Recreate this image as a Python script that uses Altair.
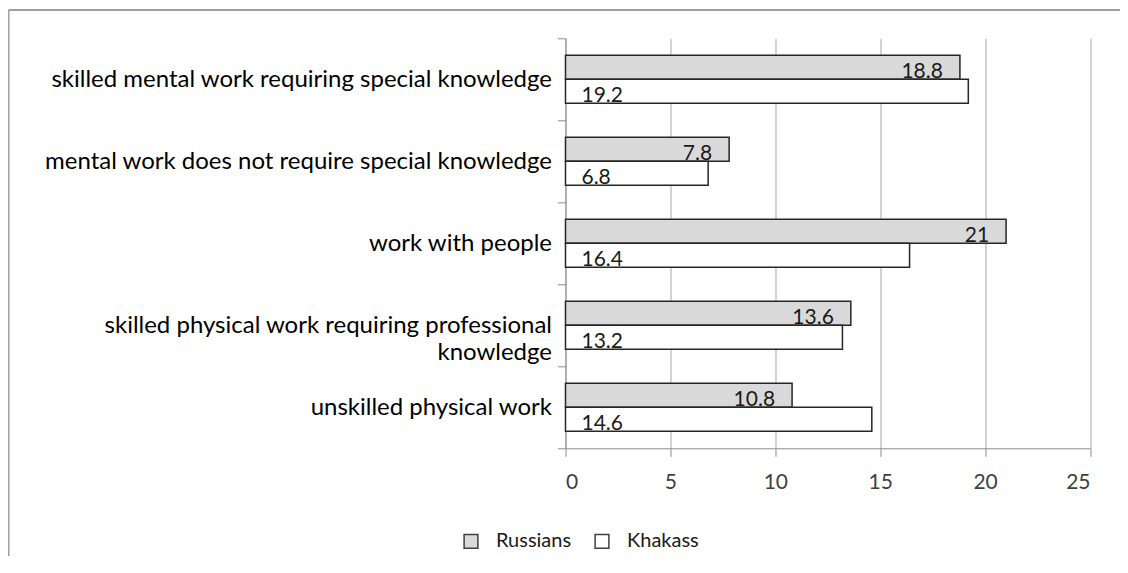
import altair as alt
import pandas as pd

categories = [
    "skilled mental work requiring special knowledge",
    "mental work does not require special knowledge",
    "work with people",
    "skilled physical work requiring professional knowledge",
    "unskilled physical work",
]
groups = ["Russians", "Khakass"]
russians = [18.8, 7.8, 21, 13.6, 10.8]
khakass = [19.2, 6.8, 16.4, 13.2, 14.6]
x_ticks = [0, 5, 10, 15, 20, 25]

rows = []
for c, r, k in zip(categories, russians, khakass):
    rows.append({"category": c, "group": "Russians", "value": r, "label": f"{r:g}"})
    rows.append({"category": c, "group": "Khakass", "value": k, "label": f"{k:g}"})
df = pd.DataFrame(rows)

FONT = "Lato"
AXIS_GRAY = "#8c8c8c"

label_expr = (
    "datum.label == 'skilled physical work requiring professional knowledge' ? "
    "['skilled physical work requiring professional', 'knowledge'] : datum.label"
)

y_enc = alt.Y(
    "category:N",
    sort=categories,
    title=None,
    scale=alt.Scale(paddingInner=0, paddingOuter=0),
    axis=alt.Axis(
        tickBand="extent",
        labelExpr=label_expr,
        labelFont=FONT,
        labelFontSize=24,
        labelColor="#000000",
        labelPadding=6,
        labelLimit=0,
        labelLineHeight=27,
        tickSize=8,
        tickColor=AXIS_GRAY,
        domainColor=AXIS_GRAY,
        grid=False,
    ),
)
yoff = alt.YOffset(
    "group:N", sort=groups, scale=alt.Scale(paddingInner=0, paddingOuter=0.708)
)
x_enc = alt.X(
    "value:Q",
    title=None,
    scale=alt.Scale(domain=[0, 25], nice=False, zero=True),
    axis=alt.Axis(
        values=x_ticks,
        grid=True,
        gridColor="#a6a6a6",
        tickSize=8,
        tickColor=AXIS_GRAY,
        domainColor=AXIS_GRAY,
        labelFont=FONT,
        labelFontSize=21,
        labelColor="#404040",
        labelBaseline="middle",
        labelPadding=26,
    ),
)

base = alt.Chart(df)

bars = base.mark_bar(stroke="#262626", strokeWidth=1.5).encode(
    x=x_enc,
    y=y_enc,
    yOffset=yoff,
    fill=alt.Fill(
        "group:N",
        sort=groups,
        scale=alt.Scale(domain=groups, range=["#d9d9d9", "#ffffff"]),
        legend=alt.Legend(
            orient="none",
            legendX=-104.5,
            legendY=493,
            direction="horizontal",
            title=None,
            symbolType="square",
            symbolSize=190,
            symbolStrokeColor="#404040",
            symbolStrokeWidth=1.5,
            labelFont=FONT,
            labelFontSize=20,
            labelColor="#1a1a1a",
            labelOffset=15,
            columnPadding=20,
            padding=0,
        ),
    ),
)

rus_text = (
    base.transform_filter("datum.group == 'Russians'")
    .mark_text(align="right", baseline="alphabetic", dx=-17, dy=11,
               font=FONT, fontSize=21, color="#1a1a1a")
    .encode(x=x_enc, y=y_enc, yOffset=yoff, text="label:N")
)
kha_text = (
    base.transform_filter("datum.group == 'Khakass'")
    .mark_text(align="left", baseline="alphabetic", dx=16, dy=11,
               font=FONT, fontSize=21, color="#1a1a1a")
    .encode(x=alt.datum(0), y=y_enc, yOffset=yoff, text="label:N")
)

frame = pd.DataFrame({"k": [0]})
border_top = alt.Chart(frame).mark_rule(color="#a0a0a0", strokeWidth=2).encode(
    x=alt.value(-557), x2=alt.value(563), y=alt.value(-28.3)
)
border_left = alt.Chart(frame).mark_rule(color="#a0a0a0", strokeWidth=2).encode(
    x=alt.value(-557), y=alt.value(-28.3), y2=alt.value(540)
)

chart = (
    alt.layer(bars, rus_text, kha_text, border_top, border_left)
    .properties(
        width=524.5,
        height=410,
        autosize=alt.AutoSizeParams(type="none"),
        padding={"left": 557.5, "top": 30.3, "right": 30, "bottom": 108},
    )
    .configure_view(stroke=None)
)

chart.save("out.html", embed_options={"renderer": "svg", "actions": False})
